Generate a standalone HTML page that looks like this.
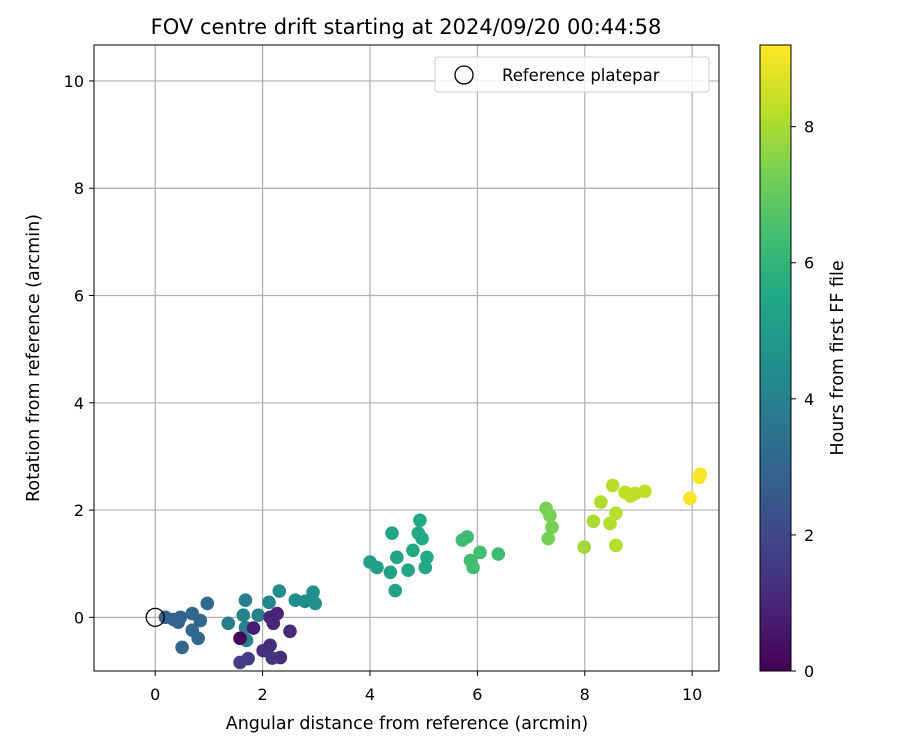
<!DOCTYPE html>
<html><head><meta charset="utf-8"><style>
body{margin:0;background:#fff;}
svg{display:block;font-family:"DejaVu Sans","Liberation Sans",sans-serif;}
</style></head><body>
<svg id="chart" width="900" height="750">
<defs>
<linearGradient id="vir" x1="0" y1="1" x2="0" y2="0">
<stop offset="0" stop-color="#440154"/><stop offset="0.1" stop-color="#482475"/><stop offset="0.2" stop-color="#414487"/><stop offset="0.3" stop-color="#355f8d"/><stop offset="0.4" stop-color="#2a788e"/><stop offset="0.5" stop-color="#21918c"/><stop offset="0.6" stop-color="#22a884"/><stop offset="0.7" stop-color="#44bf70"/><stop offset="0.8" stop-color="#7ad151"/><stop offset="0.9" stop-color="#bddf26"/><stop offset="1" stop-color="#fde725"/>
</linearGradient>
</defs>
<text x="406" y="34" text-anchor="middle" font-size="21">FOV centre drift starting at 2024/09/20 00:44:58</text>
<g id="grid"></g>
<g id="pts"></g>
<rect x="94" y="45" width="625" height="626" fill="none" stroke="#000" stroke-width="1"/>
<g id="ticks"></g>
<text x="407" y="729" text-anchor="middle" font-size="17.5">Angular distance from reference (arcmin)</text>
<text transform="translate(39,358) rotate(-90)" text-anchor="middle" font-size="17.5">Rotation from reference (arcmin)</text>
<g>
<rect x="435" y="57" width="274" height="35" rx="3" fill="#fff" fill-opacity="0.8" stroke="#ccc"/>
<circle cx="464" cy="75" r="9" fill="none" stroke="#000" stroke-width="1.3"/>
<text x="502" y="81" font-size="16.5">Reference platepar</text>
</g>
<rect x="760" y="45" width="31" height="626" fill="url(#vir)" stroke="#000" stroke-width="1"/>
<g id="cbticks"></g>
<text transform="translate(843,358) rotate(-90)" text-anchor="middle" font-size="17.5">Hours from first FF file</text>
</svg>
<script>
const xs=[0.19,0.34,0.47,0.43,0.69,0.84,0.69,0.80,0.50,0.97,1.36,
1.68,1.64,1.92,1.68,1.70,2.12,2.31,2.61,2.94,2.98,2.79,
1.58,1.83,2.14,2.27,2.20,2.51,2.01,2.14,2.33,2.18,1.58,1.73,
4.00,4.13,4.41,4.50,4.38,4.47,4.93,4.90,4.97,4.80,4.71,5.06,5.03,5.72,5.81,6.05,5.87,5.92,6.39,
7.28,7.35,7.39,7.32,7.99,8.16,8.30,8.52,8.47,8.58,8.58,8.75,8.85,8.94,9.12,9.96,10.13,10.15];
const ys=[0,-0.04,0,-0.09,0.07,-0.06,-0.24,-0.39,-0.56,0.26,-0.11,
0.32,0.04,0.04,-0.19,-0.43,0.28,0.49,0.32,0.47,0.26,0.30,
-0.39,-0.20,0,0.07,-0.11,-0.26,-0.62,-0.52,-0.75,-0.76,-0.84,-0.77,
1.03,0.93,1.57,1.12,0.84,0.50,1.81,1.57,1.47,1.25,0.88,1.12,0.93,1.44,1.50,1.21,1.06,0.93,1.18,
2.03,1.90,1.68,1.47,1.31,1.79,2.15,2.46,1.75,1.94,1.34,2.33,2.26,2.31,2.35,2.22,2.61,2.67];
const hours=[2.8,2.9,2.9,2.9,3.0,3.0,3.1,3.1,3.0,3.2,3.8,
3.9,4.0,4.1,4.0,4.0,4.2,4.4,4.5,4.6,4.6,4.5,
0.1,0.8,1.0,0.9,1.0,1.1,1.3,1.2,1.2,1.4,1.7,1.6,
5.2,5.2,5.4,5.4,5.3,5.3,5.5,5.5,5.5,5.5,5.4,5.5,5.5,6.3,6.3,6.4,6.4,6.4,6.3,
7.3,7.3,7.3,7.3,7.9,8.0,8.1,8.2,8.1,8.2,8.2,8.3,8.3,8.3,8.3,9.1,9.1,9.1];
const xTicks=[0,2,4,6,8,10];
const yTicks=[0,2,4,6,8,10];
const cTicks=[0,2,4,6,8];
const X0=-1.14,X1=10.5,Y0=-1.0,Y1=10.67,CMAX=9.2;
const px=v=>94+(v-X0)/(X1-X0)*625;
const py=v=>671-(v-Y0)/(Y1-Y0)*626;
const cy=v=>671-v/CMAX*626;
const VIR=[[68,1,84],[72,36,117],[65,68,135],[53,95,141],[42,120,142],[33,145,140],[34,168,132],[68,191,112],[122,209,81],[189,223,38],[253,231,37]];
function vcol(h){let t=Math.max(0,Math.min(1,h/CMAX))*10;let i=Math.min(9,Math.floor(t));let f=t-i;let a=VIR[i],b=VIR[i+1];
return 'rgb('+a.map((c,k)=>Math.round(c+(b[k]-c)*f)).join(',')+')';}
const NS='http://www.w3.org/2000/svg';
function mk(tag,attrs,parent){const e=document.createElementNS(NS,tag);for(const k in attrs)e.setAttribute(k,attrs[k]);parent.appendChild(e);return e;}
const grid=document.getElementById('grid'),ticks=document.getElementById('ticks'),pts=document.getElementById('pts'),cb=document.getElementById('cbticks');
xTicks.forEach(v=>{const x=px(v);
const g=mk('line',{x1:x,x2:x,y1:45,y2:671,stroke:'#b0b0b0','stroke-width':1.2},grid);


const t=mk('line',{x1:x,x2:x,y1:671,y2:676,stroke:'#000'},ticks);


const l=mk('text',{x:x,y:700,'text-anchor':'middle','font-size':16},ticks);l.textContent=v;

});
yTicks.forEach(v=>{const y=py(v);
const g=mk('line',{x1:94,x2:719,y1:y,y2:y,stroke:'#b0b0b0','stroke-width':1.2},grid);


const t=mk('line',{x1:89,x2:94,y1:y,y2:y,stroke:'#000'},ticks);


const l=mk('text',{x:84,y:y+6,'text-anchor':'end','font-size':16},ticks);l.textContent=v;

});
cTicks.forEach(v=>{const y=cy(v);
const t=mk('line',{x1:791,x2:796,y1:y,y2:y,stroke:'#000'},cb);


const l=mk('text',{x:804,y:y+6,'font-size':16},cb);l.textContent=v;

});
xs.forEach((x,i)=>{const c=mk('circle',{cx:px(x),cy:py(ys[i]),r:6.8,fill:vcol(hours[i])},pts);

});
const ref=mk('circle',{cx:px(0),cy:py(0),r:9,fill:'none',stroke:'#000','stroke-width':1.3},pts);


</script>
</body></html>
